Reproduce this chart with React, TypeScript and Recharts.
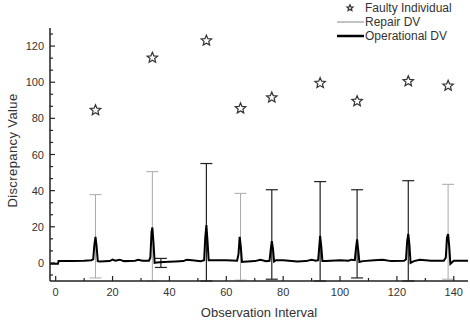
import {
  ComposedChart,
  Line,
  Scatter,
  ErrorBar,
  XAxis,
  YAxis,
} from 'recharts'

// observation index of each faulty individual and its discrepancy value
const faultX = [14, 34, 53, 65, 76, 93, 106, 124, 138]
const faultY = [84.5, 113.5, 123, 85.5, 91.5, 99.5, 89.5, 100.5, 98]

// repair DV ranges: [x, low, high]
const repairFaint: [number, number, number][] = [
  [14, -8.3, 37.8],
  [34, -10, 50.5],
  [65, -9.5, 38.5],
  [138, -9, 43.5],
]
const repairSolid: [number, number, number][] = [
  [37, -2.5, 2.5],
  [53, -10, 55],
  [76, -9, 40.5],
  [93, -10, 45],
  [106, -8.3, 40.5],
  [124, -10, 45.5],
]

// operational DV trace [x, value]
const operational: [number, number][] = [
  [-2, -0.5], [0.8, -0.5], [1, 1], [6, 1], [10, 1.2], [12.5, 1.5],
  [13.2, 2], [13.6, 10], [14, 14.4], [14.4, 9], [14.8, 1], [15.5, 0.8],
  [19, 1], [20, 1.8], [21, 1.2], [22.5, 1.8], [24, 1], [28, 1.2], [29, 1.8], [30.5, 1.2],
  [32.8, 1.2], [33.3, 3], [33.7, 17], [34, 19.6], [34.4, 11], [34.8, 0], [35.5, 0.2],
  [38, 0.5], [42, 0.8], [45, 1], [46, 1.8], [48, 1.5], [51, 1],
  [52.2, 1.5], [52.6, 14], [53, 21], [53.4, 12], [53.8, 1.5], [56, 1.5], [60, 1.5],
  [63.8, 1.2], [64.3, 5], [64.7, 14.4], [65.1, 9], [65.5, 0.5], [66.2, 0.6],
  [70, 1], [72, 1.8], [74, 1],
  [75.2, 1.2], [75.6, 7], [76, 12], [76.4, 8], [76.8, 0.8], [77.5, 1.5], [80, 1.5],
  [85, 0.8], [88, 1], [90, 1.8], [91.5, 1.2],
  [92.3, 1.5], [92.7, 9], [93, 15], [93.4, 9], [93.8, 1], [95, 1], [100, 1.5],
  [103, 1.2], [104, 1.8], [105.2, 1.5], [105.6, 8], [106, 13], [106.4, 7], [106.8, 0.5],
  [108, 1], [112, 1.5], [115, 1.8], [118, 1], [122.5, 1.2],
  [123.2, 2], [123.6, 12], [124, 16], [124.4, 10], [124.8, 0], [126, 1], [128, 1.8],
  [132, 1.2], [136.5, 1.2], [137.2, 3], [137.6, 14], [138, 16], [138.4, 9], [138.8, -0.5],
  [140, 1.2], [145, 1.2],
]

const xMajor = [0, 20, 40, 60, 80, 100, 120, 140]
const xMinor = [10, 30, 50, 70, 90, 110, 130]
const yMajor = [0, 20, 40, 60, 80, 100, 120]
const yMinor = [
  -6.67, 6.67, 13.33, 26.67, 33.33, 46.67, 53.33, 66.67, 73.33,
  86.67, 93.33, 106.67, 113.33, 126.67,
]

const faultData = faultX.map((x, i) => ({ x, y: faultY[i] }))
const toBars = (rows: [number, number, number][]) =>
  rows.map(([x, lo, hi]) => ({ x, y: 0, err: [-lo, hi] }))
const opData = operational.map(([x, y]) => ({ x, y }))

const ink = '#333'
const font = 'Liberation Sans, Arial, sans-serif'

function Star({ cx, cy, r = 5.5 }: { cx?: number; cy?: number; r?: number }) {
  if (cx == null || cy == null) return null
  const pts: string[] = []
  for (let i = 0; i < 10; i++) {
    const rad = i % 2 === 0 ? r : r * 0.45
    const a = -Math.PI / 2 + (i * Math.PI) / 5
    pts.push(`${cx + rad * Math.cos(a)},${cy + rad * Math.sin(a)}`)
  }
  return <polygon points={pts.join(' ')} fill="#fff" stroke="#333" strokeWidth={1.2} />
}

function XTick({ x, y, payload }: any) {
  const major = xMajor.includes(payload.value)
  return (
    <g>
      <line x1={x} y1={y} x2={x} y2={y - (major ? 5 : 3)} stroke="#222" strokeWidth={1.2} />
      {major && (
        <text x={x} y={y + 15} textAnchor="middle" fontSize={11} fill={ink} fontFamily={font}>
          {payload.value}
        </text>
      )}
    </g>
  )
}

function YTick({ x, y, payload }: any) {
  const major = yMajor.includes(payload.value)
  return (
    <g>
      <line x1={x} y1={y} x2={x + (major ? 5 : 3)} y2={y} stroke="#222" strokeWidth={1.2} />
      {major && (
        <text x={x - 6} y={y + 4} textAnchor="end" fontSize={11} fill={ink} fontFamily={font}>
          {payload.value}
        </text>
      )}
    </g>
  )
}

function LegendBox() {
  const row = { display: 'flex', alignItems: 'center', height: 14 } as const
  return (
    <div
      style={{
        position: 'absolute',
        left: 335,
        top: 1,
        fontFamily: font,
        fontSize: 12,
        color: ink,
        lineHeight: '14px',
      }}
    >
      <div style={row}>
        <svg width={30} height={14}>
          <Star cx={15} cy={7} r={3.2} />
        </svg>
        <span>Faulty Individual</span>
      </div>
      <div style={row}>
        <svg width={30} height={14}>
          <line x1={2} y1={7} x2={29} y2={7} stroke="#888" strokeWidth={1} />
        </svg>
        <span>Repair DV</span>
      </div>
      <div style={row}>
        <svg width={30} height={14}>
          <line x1={2} y1={7} x2={29} y2={7} stroke="#000" strokeWidth={2.5} />
        </svg>
        <span>Operational DV</span>
      </div>
    </div>
  )
}

export default function App() {
  return (
    <div style={{ position: 'absolute', left: 0, top: 0, width: 470, height: 323, background: '#fff' }}>
      <ComposedChart width={470} height={323} margin={{ top: 28, right: 2, bottom: 0, left: 0 }}>
        <XAxis
          dataKey="x"
          type="number"
          domain={[-2, 145]}
          allowDataOverflow
          ticks={[...xMajor, ...xMinor].sort((a, b) => a - b)}
          interval={0}
          tick={<XTick />}
          tickLine={false}
          tickSize={0}
          tickMargin={0}
          height={42}
          axisLine={{ stroke: '#222', strokeWidth: 1.5 }}
          label={{
            value: 'Observation Interval',
            position: 'insideBottom',
            offset: 6,
            style: { fontSize: 13, fill: ink, fontFamily: font },
          }}
        />
        <YAxis
          type="number"
          domain={[-10, 130]}
          allowDataOverflow
          ticks={[...yMajor, ...yMinor].sort((a, b) => a - b)}
          interval={0}
          tick={<YTick />}
          tickLine={false}
          tickSize={0}
          tickMargin={0}
          width={50}
          axisLine={{ stroke: '#222', strokeWidth: 1.5 }}
          label={{
            value: 'Discrepancy Value',
            angle: -90,
            position: 'insideLeft',
            offset: 12,
            dy: -4,
            style: { fontSize: 13, fill: ink, fontFamily: font, textAnchor: 'middle', letterSpacing: 0.4 },
          }}
        />
        <Scatter data={toBars(repairFaint)} dataKey="y" shape={() => <g />} isAnimationActive={false}>
          <ErrorBar dataKey="err" direction="y" width={6} stroke="#aaa" strokeWidth={1} isAnimationActive={false} />
        </Scatter>
        <Scatter data={toBars(repairSolid)} dataKey="y" shape={() => <g />} isAnimationActive={false}>
          <ErrorBar dataKey="err" direction="y" width={6} stroke="#222" strokeWidth={1.2} isAnimationActive={false} />
        </Scatter>
        <Line
          data={opData}
          dataKey="y"
          type="linear"
          stroke="#000"
          strokeWidth={2}
          dot={false}
          isAnimationActive={false}
        />
        <Scatter data={faultData} dataKey="y" shape={<Star />} isAnimationActive={false} />
      </ComposedChart>
      <LegendBox />
    </div>
  )
}
